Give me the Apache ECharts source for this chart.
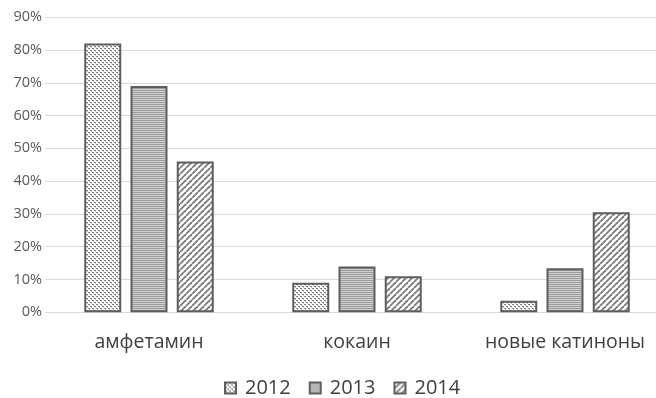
<!DOCTYPE html>
<html>
<head>
<meta charset="utf-8">
<script src="https://cdn.jsdelivr.net/npm/echarts@6/dist/echarts.min.js"></script>
<style>
  html, body { margin: 0; padding: 0; background: #fff; }
  #chart { width: 656px; height: 398px; }
</style>
</head>
<body>
<div id="chart"></div>
<script>
// Доля веществ по годам, %
const categories = ['амфетамин', 'кокаин', 'новые катиноны'];
const years = ['2012', '2013', '2014'];
const values2012 = [82, 9, 3.5];
const values2013 = [69, 14, 13.4];
const values2014 = [46, 11, 30.5];
const yTicks = [0, 10, 20, 30, 40, 50, 60, 70, 80, 90];

// Штриховки заливки столбцов
function makeTile(w, h, draw) {
  const c = document.createElement('canvas');
  c.width = w; c.height = h;
  const ctx = c.getContext('2d');
  ctx.fillStyle = '#ffffff';
  ctx.fillRect(0, 0, w, h);
  draw(ctx);
  return { image: c, repeat: 'repeat' };
}

const dotted = makeTile(4, 4, ctx => {
  ctx.fillStyle = '#808080';
  ctx.fillRect(0, 0, 2, 1);
  ctx.fillRect(2, 2, 2, 1);
  ctx.fillStyle = '#bdbdbd';
  ctx.fillRect(1, 1, 1, 1);
  ctx.fillRect(3, 3, 1, 1);
});

const striped = makeTile(1, 2, ctx => {
  ctx.fillStyle = '#9c9c9c';
  ctx.fillRect(0, 0, 1, 1);
  ctx.fillStyle = '#cfcfcf';
  ctx.fillRect(0, 1, 1, 1);
});

const hatched = makeTile(6, 6, ctx => {
  ctx.strokeStyle = '#7a7a7a';
  ctx.lineWidth = 1.8;
  for (const o of [-6, 0, 6]) {
    ctx.beginPath();
    ctx.moveTo(o, 6);
    ctx.lineTo(o + 6, 0);
    ctx.stroke();
  }
});

const fills = [dotted, striped, hatched];
const seriesValues = [values2012, values2013, values2014];

const font = '"Open Sans", "Noto Sans", sans-serif';

const chart = echarts.init(document.getElementById('chart'), null, { renderer: 'canvas' });

chart.setOption({
  animation: false,
  backgroundColor: '#ffffff',
  textStyle: { fontFamily: font },
  grid: {
    left: 45,
    width: 624,
    top: 17.2,
    height: 295.1,
    containLabel: false,
    outerBoundsMode: 'none'
  },
  legend: {
    data: years,
    top: 373,
    left: 219,
    itemWidth: 11,
    itemHeight: 11,
    itemGap: 18,
    icon: 'rect',
    textStyle: {
      fontFamily: font,
      fontSize: 20,
      color: '#404040',
      padding: [0, 0, 0, 4]
    }
  },
  xAxis: {
    type: 'category',
    data: categories,
    axisLine: { show: true, lineStyle: { color: '#d9d9d9', width: 1 } },
    axisTick: { show: false },
    axisLabel: {
      interval: 0,
      fontFamily: font,
      fontSize: 19.5,
      color: '#404040',
      margin: 20
    }
  },
  yAxis: {
    type: 'value',
    min: yTicks[0],
    max: yTicks[yTicks.length - 1],
    interval: yTicks[1] - yTicks[0],
    axisLine: { show: false },
    axisTick: { show: false },
    splitLine: { lineStyle: { color: '#d9d9d9', width: 1 } },
    axisLabel: {
      fontFamily: font,
      fontSize: 14.5,
      color: '#595959',
      margin: 3,
      formatter: v => v + '%'
    }
  },
  series: years.map((y, i) => ({
    name: y,
    type: 'bar',
    data: seriesValues[i],
    barWidth: 37,
    barGap: '25%',
    itemStyle: {
      color: fills[i],
      borderColor: '#5e5e5e',
      borderWidth: 2
    }
  }))
});
</script>
</body>
</html>
